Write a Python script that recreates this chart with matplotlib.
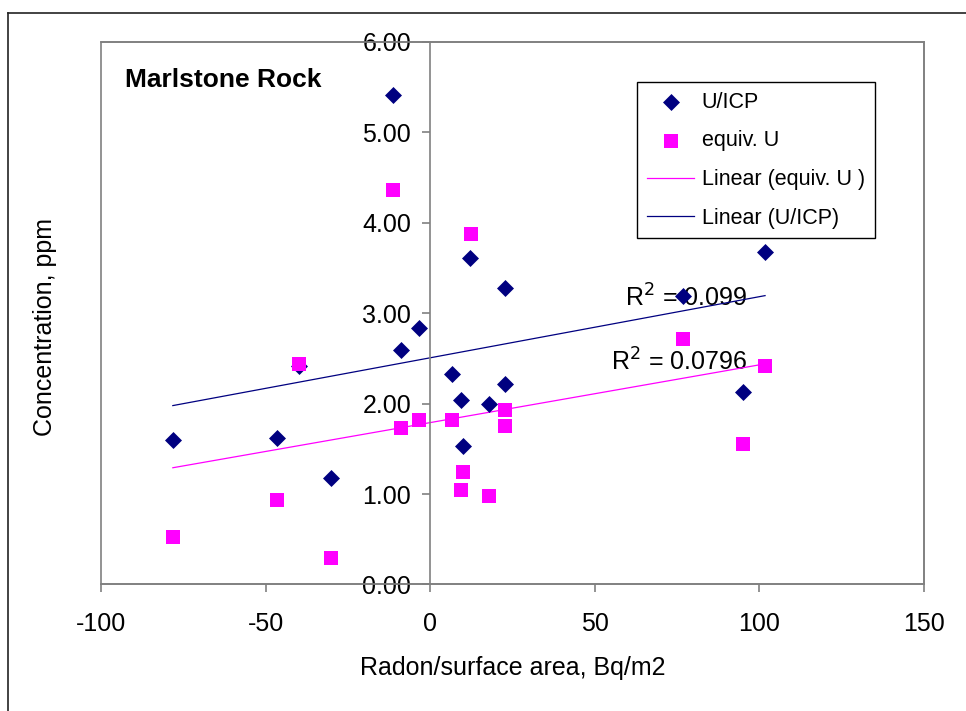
import numpy as np
import matplotlib
matplotlib.use("Agg")
import matplotlib.pyplot as plt
from matplotlib.lines import Line2D
from matplotlib.patches import Rectangle

plt.rcParams['font.family'] = ['Liberation Sans', 'DejaVu Sans']
plt.rcParams['axes.unicode_minus'] = False

# Radon per surface area (Bq/m2) for each sample
radon_icp = [-78.3, -46.7, -40.0, -30.2, -11.4, -9.0, -3.5, 6.5, 9.3, 10.0,
             12.0, 17.7, 22.6, 22.6, 76.7, 95.0, 101.7]
u_icp = [1.60, 1.62, 2.42, 1.18, 5.41, 2.59, 2.84, 2.33, 2.04, 1.53,
         3.61, 2.00, 2.22, 3.28, 3.19, 2.13, 3.68]

radon_eq = [-78.3, -46.7, -40.0, -30.2, -11.5, -9.0, -3.5, 6.6, 9.3, 10.0,
            12.2, 17.7, 22.6, 22.6, 76.8, 95.0, 101.7]
equiv_u = [0.53, 0.93, 2.44, 0.29, 4.36, 1.73, 1.82, 1.82, 1.04, 1.24,
           3.88, 0.98, 1.93, 1.75, 2.72, 1.55, 2.42]

r2_icp_text = "R$^2$ = 0.099"
r2_eq_text = "R$^2$ = 0.0796"

navy = "#000080"
magenta = "#FF00FF"
grey = "#808080"
FS = 18

fig = plt.figure(figsize=(9.66, 7.11), dpi=100)
ax = fig.add_axes([0.105, 0.178, 0.8515, 0.763])

ax.set_xlim(-100, 150)
ax.set_ylim(0, 6)

# linear trendlines over the data range
def trend(x, y):
    x = np.asarray(x); y = np.asarray(y)
    k, b = np.polyfit(x, y, 1)
    xs = np.array([x.min(), x.max()])
    return xs, k * xs + b

xs, ys = trend(radon_eq, equiv_u)
ax.plot(xs, ys, color=magenta, lw=0.9, label="Linear (equiv. U )", zorder=2)
xs, ys = trend(radon_icp, u_icp)
ax.plot(xs, ys, color=navy, lw=0.9, label="Linear (U/ICP)", zorder=2)

ax.scatter(radon_icp, u_icp, marker='D', s=75, color=navy, label="U/ICP", zorder=3, linewidths=0)
ax.scatter(radon_eq, equiv_u, marker='s', s=100, color=magenta, label="equiv. U", zorder=4, linewidths=0)

# axes: y axis crossing at x = 0, plot area framed in grey
for s in ['top', 'right', 'bottom']:
    ax.spines[s].set_color(grey)
    ax.spines[s].set_linewidth(1.2)
ax.spines['left'].set_position(('data', 0))
ax.spines['left'].set_color(grey)
ax.spines['left'].set_linewidth(1.2)
ax.add_patch(Rectangle((0, 0), 1, 1, transform=ax.transAxes, fill=False,
                       edgecolor=grey, lw=1.2, clip_on=False, zorder=0))

ax.set_xticks([-100, -50, 0, 50, 100, 150])
ax.set_yticks(np.arange(0, 6.01, 1.0))
ax.set_yticklabels([f"{v:.2f}" for v in np.arange(0, 6.01, 1.0)])
ax.tick_params(axis='both', direction='out', length=6, width=1.2, color=grey,
               labelsize=FS, labelcolor='black')
ax.tick_params(axis='x', pad=14)
ax.tick_params(axis='y', pad=8)

ax.set_xlabel("Radon/surface area, Bq/m2", fontsize=FS, labelpad=14)
fig.text(45 / 966, 1 - 327 / 711, "Concentration, ppm", rotation=90,
         ha='center', va='center', fontsize=FS)

ax.text(0.0286, 0.93, "Marlstone Rock", transform=ax.transAxes, fontsize=19,
        fontweight='bold', ha='left', va='center')

ax.text(59, 3.17, r2_icp_text, fontsize=FS, ha='left', va='center', zorder=1)
ax.text(55, 2.46, r2_eq_text, fontsize=FS, ha='left', va='center', zorder=1)

handles, labels = ax.get_legend_handles_labels()
order = [labels.index(n) for n in ["U/ICP", "equiv. U", "Linear (equiv. U )", "Linear (U/ICP)"]]
leg = ax.legend([handles[i] for i in order], [labels[i] for i in order],
                loc='upper right', bbox_to_anchor=(0.940, 0.926), fontsize=15.5,
                frameon=True, fancybox=False, edgecolor='black', framealpha=1,
                borderpad=0.45, labelspacing=0.82, handlelength=2.2, handletextpad=0.35,
                borderaxespad=0)
leg.get_frame().set_linewidth(1.0)

# outer chart frame
fig.add_artist(Line2D([8/966, 8/966], [0, 1 - 13/711], color='#222222', lw=1.2))
fig.add_artist(Line2D([8/966, 1], [1 - 13/711, 1 - 13/711], color='#222222', lw=1.2))

fig.savefig("out.png", dpi=100)
